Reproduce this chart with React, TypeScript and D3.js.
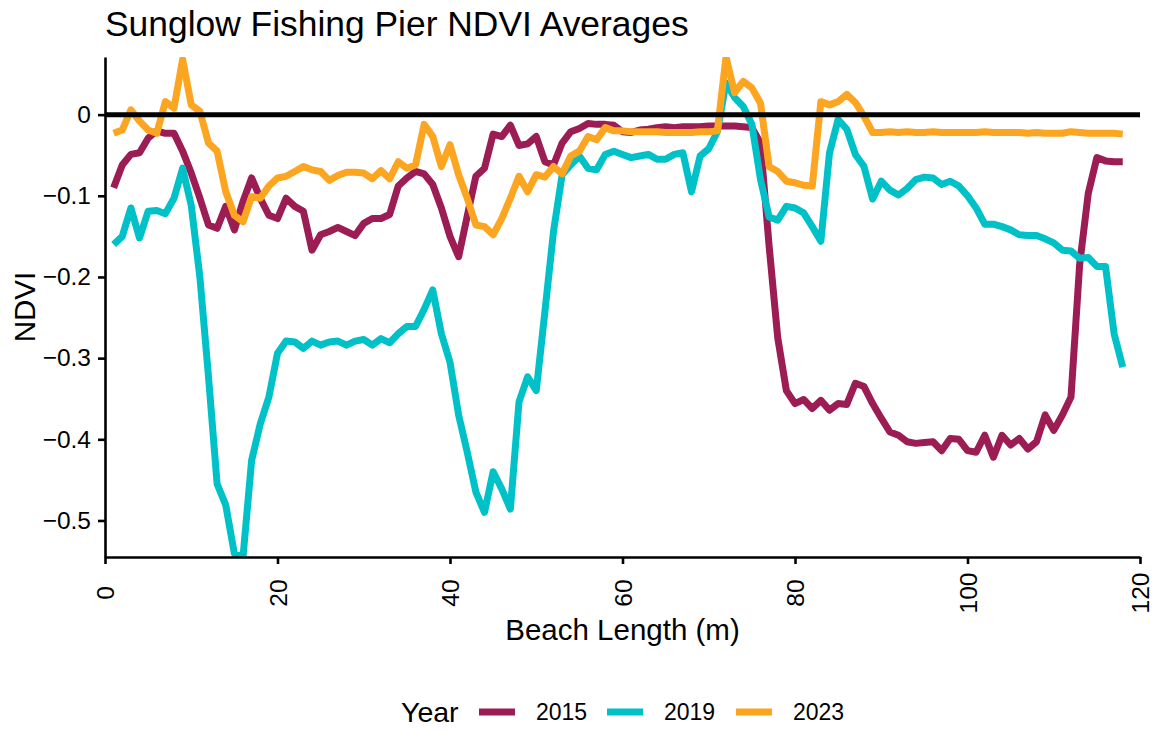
import { useEffect, useRef } from 'react';
import * as d3 from 'd3';

// beach position in metres, one sample per metre
const beachLength = d3.range(1, 119);

const ndvi2015 = [
  -0.090, -0.062, -0.049, -0.047, -0.029, -0.020, -0.023, -0.023, -0.045, -0.072,
  -0.103, -0.136, -0.140, -0.113, -0.142, -0.107, -0.078, -0.103, -0.124, -0.128,
  -0.103, -0.113, -0.119, -0.167, -0.148, -0.144, -0.139, -0.144, -0.149, -0.134,
  -0.128, -0.128, -0.123, -0.088, -0.078, -0.070, -0.073, -0.086, -0.115, -0.150,
  -0.175, -0.125, -0.076, -0.066, -0.024, -0.027, -0.013, -0.038, -0.036, -0.027,
  -0.058, -0.062, -0.035, -0.021, -0.017, -0.011, -0.012, -0.012, -0.013, -0.021,
  -0.022, -0.019, -0.018, -0.016, -0.015, -0.016, -0.015, -0.015, -0.015, -0.014,
  -0.014, -0.014, -0.014, -0.015, -0.016, -0.035, -0.162, -0.275, -0.340, -0.356,
  -0.351, -0.362, -0.352, -0.364, -0.356, -0.357, -0.331, -0.335, -0.356, -0.374,
  -0.391, -0.395, -0.403, -0.405, -0.404, -0.403, -0.414, -0.399, -0.400, -0.414,
  -0.416, -0.395, -0.422, -0.395, -0.407, -0.399, -0.412, -0.403, -0.370, -0.389,
  -0.370, -0.348, -0.185, -0.097, -0.053, -0.057, -0.058, -0.058,
];

const ndvi2019 = [
  -0.160, -0.150, -0.115, -0.152, -0.119, -0.118, -0.122, -0.103, -0.066, -0.112,
  -0.200, -0.323, -0.455, -0.481, -0.541, -0.545, -0.426, -0.381, -0.348, -0.294,
  -0.279, -0.280, -0.288, -0.279, -0.284, -0.280, -0.279, -0.284, -0.279, -0.277,
  -0.284, -0.276, -0.281, -0.270, -0.261, -0.261, -0.240, -0.216, -0.270, -0.305,
  -0.370, -0.416, -0.465, -0.490, -0.440, -0.461, -0.486, -0.354, -0.323, -0.340,
  -0.243, -0.144, -0.074, -0.062, -0.051, -0.066, -0.068, -0.049, -0.045, -0.049,
  -0.053, -0.051, -0.049, -0.055, -0.055, -0.049, -0.047, -0.095, -0.051, -0.042,
  -0.021, 0.039, 0.021, 0.010, -0.012, -0.080, -0.126, -0.130, -0.113, -0.115,
  -0.121, -0.138, -0.156, -0.047, -0.006, -0.018, -0.049, -0.064, -0.104, -0.082,
  -0.093, -0.099, -0.091, -0.080, -0.077, -0.078, -0.086, -0.082, -0.088, -0.100,
  -0.115, -0.135, -0.135, -0.138, -0.142, -0.148, -0.149, -0.149, -0.153, -0.158,
  -0.167, -0.168, -0.177, -0.176, -0.187, -0.187, -0.270, -0.311,
];

const ndvi2023 = [
  -0.023, -0.019, 0.006, -0.008, -0.019, -0.023, 0.016, 0.008, 0.068, 0.012,
  0.004, -0.035, -0.045, -0.095, -0.124, -0.132, -0.101, -0.103, -0.088, -0.078,
  -0.076, -0.070, -0.064, -0.068, -0.070, -0.081, -0.075, -0.071, -0.071, -0.072,
  -0.079, -0.069, -0.079, -0.058, -0.066, -0.062, -0.012, -0.027, -0.064, -0.037,
  -0.074, -0.103, -0.136, -0.138, -0.148, -0.128, -0.103, -0.076, -0.095, -0.074,
  -0.077, -0.064, -0.073, -0.051, -0.045, -0.027, -0.031, -0.016, -0.020, -0.020,
  -0.021, -0.021, -0.021, -0.021, -0.022, -0.022, -0.022, -0.022, -0.021, -0.021,
  -0.020, 0.071, 0.027, 0.041, 0.033, 0.014, -0.064, -0.070, -0.082, -0.084,
  -0.087, -0.088, 0.016, 0.012, 0.016, 0.025, 0.015, -0.002, -0.022, -0.022,
  -0.021, -0.022, -0.021, -0.022, -0.022, -0.021, -0.022, -0.022, -0.022, -0.022,
  -0.022, -0.021, -0.022, -0.022, -0.022, -0.022, -0.023, -0.022, -0.023, -0.023,
  -0.023, -0.021, -0.022, -0.023, -0.023, -0.023, -0.023, -0.024,
];

const years = ['2015', '2019', '2023'];
const colors = ['#9c1c54', '#00c1c8', '#fca521'];
const xTicks = [0, 20, 40, 60, 80, 100, 120];
const yTicks = [0, -0.1, -0.2, -0.3, -0.4, -0.5];

const FONT = '"Liberation Sans", Arial, Helvetica, sans-serif';

export default function App() {
  const ref = useRef<SVGSVGElement>(null);
  const width = 1159;
  const height = 733;

  useEffect(() => {
    if (!ref.current) return;
    const svg = d3.select(ref.current);
    svg.selectAll('*').remove();

    const margin = { top: 57, right: 19, bottom: 176, left: 105 };
    const innerW = width - margin.left - margin.right;
    const innerH = height - margin.top - margin.bottom;

    const series = [ndvi2015, ndvi2019, ndvi2023];
    const all = series.flat();
    const x = d3.scaleLinear().domain([0, 120]).range([0, innerW]);
    const y = d3
      .scaleLinear()
      .domain(d3.extent(all) as [number, number])
      .range([innerH, 0]);

    svg
      .append('text')
      .attr('x', margin.left)
      .attr('y', 36)
      .attr('font-family', FONT)
      .attr('font-size', 35.4)
      .attr('fill', '#000')
      .text('Sunglow Fishing Pier NDVI Averages');

    const g = svg.append('g').attr('transform', `translate(${margin.left},${margin.top})`);

    g.append('clipPath')
      .attr('id', 'panel')
      .append('rect')
      .attr('width', innerW)
      .attr('height', innerH);

    const line = d3
      .line<number>()
      .x((_, i) => x(beachLength[i]))
      .y((d) => y(d));

    const plot = g.append('g').attr('clip-path', 'url(#panel)');
    series.forEach((vals, i) => {
      plot
        .append('path')
        .datum(vals)
        .attr('d', line)
        .attr('fill', 'none')
        .attr('stroke', colors[i])
        .attr('stroke-width', 7)
        .attr('stroke-linejoin', 'round');
    });

    plot
      .append('line')
      .attr('x1', 0)
      .attr('x2', innerW)
      .attr('y1', y(0))
      .attr('y2', y(0))
      .attr('stroke', '#000')
      .attr('stroke-width', 5);

    const yAxis = g
      .append('g')
      .call(
        d3
          .axisLeft(y)
          .tickValues(yTicks)
          .tickSize(7)
          .tickSizeOuter(0)
          .tickPadding(7)
          .tickFormat((d) => (+d === 0 ? '0' : d3.format('.1f')(+d)))
      );
    yAxis.selectAll('path, line').attr('stroke', '#000').attr('stroke-width', 2.6);
    yAxis
      .selectAll('text')
      .attr('fill', '#000')
      .attr('font-family', FONT)
      .attr('font-size', 24.5);

    const xAxis = g
      .append('g')
      .attr('transform', `translate(0,${innerH})`)
      .call(d3.axisBottom(x).tickValues(xTicks).tickSize(7).tickSizeOuter(0));
    xAxis.selectAll('path, line').attr('stroke', '#000').attr('stroke-width', 2.6);
    xAxis
      .selectAll('text')
      .attr('fill', '#000')
      .attr('font-family', FONT)
      .attr('font-size', 24.5)
      .attr('x', 0)
      .attr('y', 0)
      .attr('dy', '0.35em')
      .attr('text-anchor', 'middle')
      .attr('transform', 'translate(0,36) rotate(-90)');

    svg
      .append('text')
      .attr('x', margin.left + innerW / 2)
      .attr('y', 640)
      .attr('text-anchor', 'middle')
      .attr('font-family', FONT)
      .attr('font-size', 29.5)
      .text('Beach Length (m)');

    svg
      .append('text')
      .attr('transform', `translate(35,${margin.top + innerH / 2}) rotate(-90)`)
      .attr('text-anchor', 'middle')
      .attr('font-family', FONT)
      .attr('font-size', 29.5)
      .text('NDVI');

    // legend
    const legend = svg.append('g');
    legend
      .append('text')
      .attr('x', 401)
      .attr('y', 722)
      .attr('font-family', FONT)
      .attr('font-size', 28.5)
      .text('Year');
    const itemX = [479, 607, 736];
    years.forEach((yr, i) => {
      legend
        .append('line')
        .attr('x1', itemX[i])
        .attr('x2', itemX[i] + 36)
        .attr('y1', 712)
        .attr('y2', 712)
        .attr('stroke', colors[i])
        .attr('stroke-width', 7);
      legend
        .append('text')
        .attr('x', itemX[i] + 57)
        .attr('y', 720)
        .attr('font-family', FONT)
        .attr('font-size', 23)
        .text(yr);
    });
  }, []);

  return (
    <svg
      ref={ref}
      width={width}
      height={height}
      style={{ position: 'absolute', left: 0, top: 0, background: '#fff' }}
    />
  );
}
